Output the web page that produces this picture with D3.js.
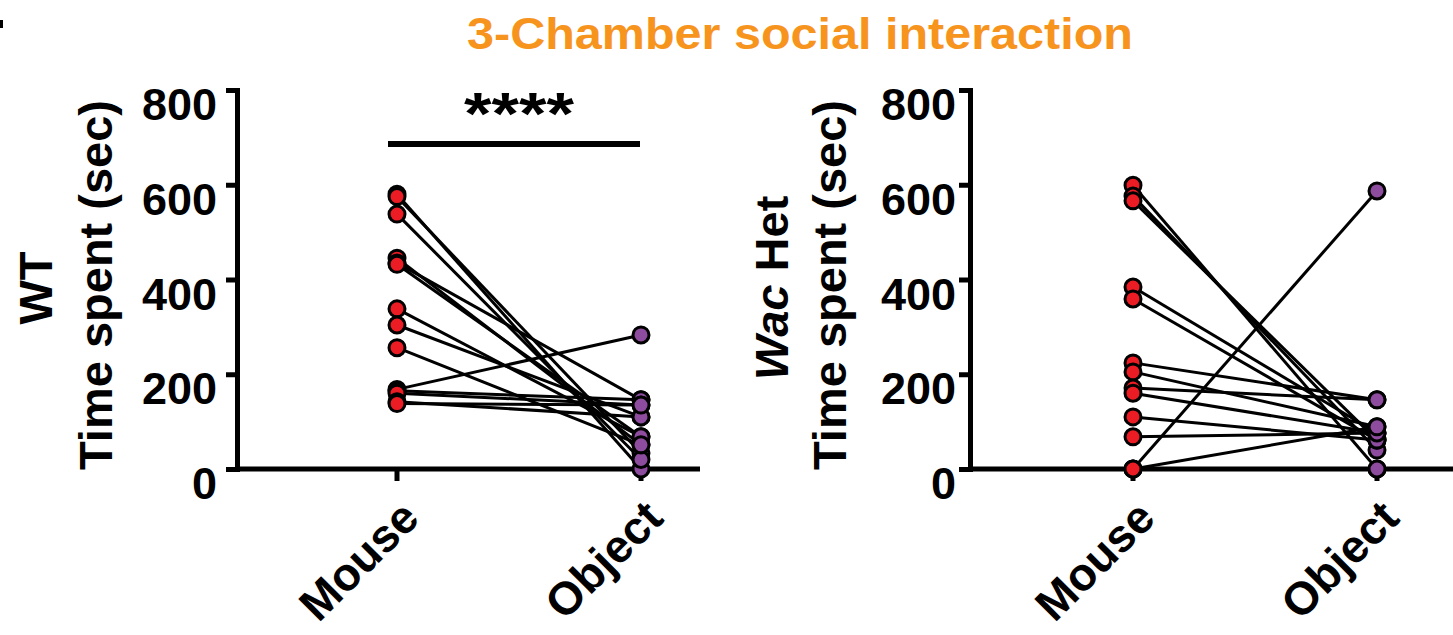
<!DOCTYPE html>
<html>
<head>
<meta charset="utf-8">
<script src="https://cdn.jsdelivr.net/npm/d3@7"></script>
<style>
  body { margin: 0; background: #fff; }
  text { font-family: "Liberation Sans", Arial, sans-serif; font-weight: bold; }
</style>
</head>
<body>
<div class="container"></div>
<script>
var w = 1453;
var h = 635;

// categories and tick labels
var groups = ["Mouse", "Object"];
var yTicks = [0, 200, 400, 600, 800];

// WT pairs (time spent, sec)
var wtMouse  = [580, 575, 538, 445, 435, 432, 338, 304, 256, 168, 165, 160, 142, 138];
var wtObject = [0, 34, 20, 51, 146, 68, 68, 110, 51, 283, 146, 135, 110, 135];

// Wac Het pairs (time spent, sec)
var hetMouse  = [599, 576, 566, 384, 359, 224, 205, 171, 160, 110, 68, 0, 0, 0];
var hetObject = [0, 40, 61, 76, 61, 146, 89, 146, 76, 61, 76, 587, 89, 0];

var red = "#ec1c24";
var purple = "#8e4c9f";

var svg = d3.select('.container')
  .append('svg')
  .attr('width', w)
  .attr('height', h);

// clipped panel letter at the very edge
svg.append("rect").attr("x", 0).attr("y", 20).attr("width", 3).attr("height", 8).attr("fill", "#000");

svg.append("text")
  .attr("x", 800)
  .attr("y", 49)
  .attr("text-anchor", "middle")
  .attr("textLength", 666)
  .attr("lengthAdjust", "spacingAndGlyphs")
  .style("font-size", "45px")
  .style("fill", "#f7941d")
  .text("3-Chamber social interaction");

function drawPanel(opt) {
  var yScale = d3.scaleLinear().domain([0, 800]).range([469, 90]);
  var xScale = d3.scalePoint().domain(groups).range([opt.x0, opt.x1]);

  var g = svg.append("g");

  // y axis
  var yAxis = d3.axisLeft(yScale).tickValues(yTicks).tickSize(11).tickSizeOuter(0).tickPadding(opt.pad);
  var ya = g.append("g")
    .attr("transform", "translate(" + opt.axisX + ",0)")
    .call(yAxis);
  ya.select(".domain").attr("stroke-width", 5).attr("stroke-linecap", "square");
  ya.selectAll(".tick line").attr("stroke-width", 5);
  ya.selectAll(".tick text")
    .attr("dy", "0.66em")
    .style("font-size", "45px")
    .style("font-family", "'Liberation Sans', Arial, sans-serif")
    .style("font-weight", "bold")
    .attr("fill", "#000");

  // x axis line
  g.append("line")
    .attr("x1", opt.axisX).attr("x2", opt.xEnd)
    .attr("y1", yScale(0)).attr("y2", yScale(0))
    .attr("stroke", "#000").attr("stroke-width", 5);

  g.selectAll(".xtick")
    .data(groups)
    .enter()
    .append("line")
    .attr("x1", d => xScale(d)).attr("x2", d => xScale(d))
    .attr("y1", yScale(0)).attr("y2", yScale(0) + 12)
    .attr("stroke", "#000").attr("stroke-width", 5);

  g.selectAll(".xlab")
    .data(groups)
    .enter()
    .append("text")
    .attr("transform", d => "translate(" + (xScale(d) + 1) + "," + (yScale(0) + 28) + ") rotate(-45)")
    .attr("text-anchor", "end")
    .attr("dy", "0.72em")
    .style("font-size", "46px")
    .text(d => d);

  // y titles
  g.append("text")
    .attr("transform", "translate(" + opt.titleX + ",285) rotate(-90)")
    .attr("text-anchor", "middle")
    .style("font-size", "47px")
    .text("Time spent (sec)");

  var lab = g.append("text")
    .attr("transform", "translate(" + opt.labelX + ",288) rotate(-90)")
    .attr("text-anchor", "middle")
    .style("font-size", "47px");
  opt.label(lab);

  // paired lines
  var pairs = opt.mouse.map((m, i) => [m, opt.object[i]]);
  g.selectAll(".pair")
    .data(pairs)
    .enter()
    .append("line")
    .attr("x1", xScale("Mouse")).attr("x2", xScale("Object"))
    .attr("y1", d => yScale(d[0])).attr("y2", d => yScale(d[1]))
    .attr("stroke", "#000").attr("stroke-width", 3);

  g.selectAll(".dotM")
    .data(opt.mouse)
    .enter()
    .append("circle")
    .attr("cx", xScale("Mouse"))
    .attr("cy", d => yScale(d))
    .attr("r", 8)
    .style("fill", red)
    .style("stroke", "#000")
    .style("stroke-width", 3);

  g.selectAll(".dotO")
    .data(opt.object)
    .enter()
    .append("circle")
    .attr("cx", xScale("Object"))
    .attr("cy", d => yScale(d))
    .attr("r", 8)
    .style("fill", purple)
    .style("stroke", "#000")
    .style("stroke-width", 3);

  return {x: xScale, y: yScale, g: g};
}

var p1 = drawPanel({
  axisX: 237, x0: 397, x1: 641, xEnd: 700, pad: 9,
  titleX: 112, labelX: 52,
  mouse: wtMouse, object: wtObject,
  label: function (t) { t.text("WT"); }
});

var p2 = drawPanel({
  axisX: 970, x0: 1133, x1: 1377, xEnd: 1453, pad: 3,
  titleX: 846, labelX: 788,
  mouse: hetMouse, object: hetObject,
  label: function (t) {
    t.append("tspan").style("font-style", "italic").text("Wac");
    t.append("tspan").text(" Het");
  }
});

// significance bar
p1.g.append("line")
  .attr("x1", p1.x("Mouse") - 9).attr("x2", p1.x("Object") - 1)
  .attr("y1", 144).attr("y2", 144)
  .attr("stroke", "#000").attr("stroke-width", 6);

p1.g.append("text")
  .attr("x", (p1.x("Mouse") + p1.x("Object")) / 2)
  .attr("y", 134)
  .attr("text-anchor", "middle")
  .attr("textLength", 110)
  .attr("lengthAdjust", "spacingAndGlyphs")
  .style("font-size", "60px")
  .text("****");
</script>
</body>
</html>
